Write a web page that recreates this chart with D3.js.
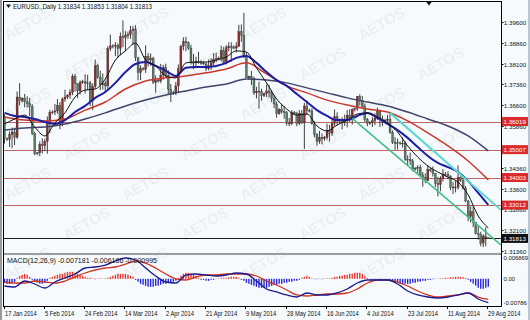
<!DOCTYPE html>
<html><head><meta charset="utf-8">
<script src="https://cdn.jsdelivr.net/npm/d3@7"></script>
<style>
body{margin:0;background:#f6fafc;}
svg{display:block;}
text{font-family:"Liberation Sans",Arial,sans-serif;}
</style>
</head><body>
<svg id="c" width="530" height="320"></svg>
<script>
// ---------------- DATA ----------------
const symbolTitle = "EURUSD,,Daily";
const lastBar = [1.31834, 1.31853, 1.31804, 1.31813];
const macdTitle = "MACD(12,26,9) -0.007181 -0.006186 -0.000995";
const watermark = "AETOS";

const dateLabels = ["17 Jan 2014","5 Feb 2014","24 Feb 2014","14 Mar 2014","2 Apr 2014","21 Apr 2014","9 May 2014","28 May 2014","16 Jun 2014","4 Jul 2014","23 Jul 2014","11 Aug 2014","29 Aug 2014"];
const dateLabelBars = [0,16,32,48,64,80,96,112,128,144,160,176,192];

const priceTicks = [1.39600,1.38860,1.38100,1.37360,1.36600,1.35860,1.35100,1.34360,1.33600,1.32860,1.32100,1.31360];
const levels = [1.36019,1.35007,1.34003,1.33012];
const currentPrice = 1.31813;
const macdTicks = [0.006869, 0.00, -0.00786];

const opens = [1.3620,1.3540,1.3538,1.3555,1.3564,1.3545,1.3690,1.3677,1.3685,1.3673,1.3667,1.3655,1.3560,1.3486,1.3489,1.3520,1.3515,1.3530,1.3595,1.3635,
1.3636,1.3640,1.3660,1.3594,1.3683,1.3690,1.3697,1.3707,1.3765,1.3738,1.3712,1.3743,1.3746,1.3740,1.3741,1.3676,1.3727,1.3803,1.3762,1.3734,
1.3740,1.3730,1.3864,1.3874,1.3873,1.3876,1.3865,1.3908,1.3904,1.3913,1.3915,1.3930,1.3934,1.3832,1.3778,1.3792,1.3790,1.3837,1.3823,1.3830,
1.3743,1.3750,1.3748,1.3769,1.3796,1.3767,1.3718,1.3703,1.3705,1.3730,1.3792,1.3873,1.3890,1.3885,1.3866,1.3815,1.3813,1.3819,1.3814,1.3812,
1.3809,1.3792,1.3802,1.3813,1.3826,1.3828,1.3830,1.3857,1.3815,1.3867,1.3872,1.3870,1.3866,1.3873,1.3925,1.3912,1.3838,1.3759,1.3764,1.3756,
1.3705,1.3711,1.3711,1.3695,1.3702,1.3712,1.3705,1.3685,1.3665,1.3630,1.3645,1.3637,1.3634,1.3596,1.3594,1.3635,1.3630,1.3595,1.3630,1.3597,
1.3658,1.3642,1.3640,1.3593,1.3555,1.3531,1.3545,1.3540,1.3545,1.3570,1.3560,1.3595,1.3620,1.3604,1.3602,1.3600,1.3610,1.3625,1.3616,1.3645,
1.3648,1.3692,1.3678,1.3655,1.3610,1.3596,1.3598,1.3605,1.3614,1.3640,1.3610,1.3603,1.3606,1.3610,1.3562,1.3526,1.3526,1.3525,1.3522,1.3524,
1.3466,1.3465,1.3460,1.3430,1.3434,1.3437,1.3410,1.3400,1.3389,1.3430,1.3425,1.3415,1.3379,1.3375,1.3398,1.3413,1.3412,1.3406,1.3364,1.3366,
1.3365,1.3401,1.3390,1.3362,1.3316,1.3260,1.3278,1.3240,1.3200,1.3196,1.3164,1.3190,1.31834];
const highs = [1.3628,1.3545,1.3566,1.3580,1.3580,1.3710,1.3740,1.3690,1.3701,1.3693,1.3687,1.3665,1.3565,1.3492,1.3530,1.3541,1.3540,1.3620,1.3644,1.3642,
1.3665,1.3683,1.3672,1.3688,1.3716,1.3700,1.3718,1.3772,1.3774,1.3740,1.3750,1.3752,1.3772,1.3770,1.3748,1.3739,1.3825,1.3810,1.3785,1.3775,
1.3749,1.3873,1.3915,1.3880,1.3888,1.3883,1.3922,1.3966,1.3927,1.3925,1.3946,1.3945,1.3948,1.3833,1.3804,1.3798,1.3876,1.3848,1.3847,1.3835,
1.3768,1.3757,1.3809,1.3806,1.3810,1.3786,1.3737,1.3712,1.3745,1.3807,1.3878,1.3905,1.3907,1.3890,1.3878,1.3845,1.3835,1.3853,1.3822,1.3818,
1.3815,1.3825,1.3830,1.3848,1.3850,1.3836,1.3875,1.3871,1.3877,1.3887,1.3887,1.3876,1.3887,1.3950,1.3951,1.3993,1.3851,1.3767,1.3784,1.3763,
1.3727,1.3745,1.3720,1.3706,1.3735,1.3734,1.3715,1.3697,1.3673,1.3650,1.3666,1.3657,1.3640,1.3615,1.3643,1.3640,1.3637,1.3643,1.3643,1.3669,
1.3677,1.3648,1.3650,1.3603,1.3560,1.3568,1.3559,1.3550,1.3594,1.3590,1.3615,1.3645,1.3635,1.3612,1.3617,1.3627,1.3643,1.3646,1.3649,1.3652,
1.3694,1.3700,1.3694,1.3667,1.3615,1.3603,1.3618,1.3631,1.3652,1.3645,1.3623,1.3612,1.3626,1.3637,1.3570,1.3546,1.3540,1.3530,1.3545,1.3531,
1.3480,1.3490,1.3467,1.3438,1.3445,1.3446,1.3420,1.3415,1.3444,1.3435,1.3440,1.3417,1.3403,1.3405,1.3431,1.3420,1.3423,1.3408,1.3385,1.3390,
1.3444,1.3405,1.3400,1.3370,1.3320,1.3297,1.3298,1.3240,1.3225,1.3205,1.3196,1.3222,1.31853];
const lows = [1.3523,1.3532,1.3510,1.3506,1.3517,1.3540,1.3660,1.3670,1.3653,1.3652,1.3621,1.3553,1.3480,1.3481,1.3477,1.3487,1.3495,1.3486,1.3560,1.3628,
1.3625,1.3630,1.3574,1.3585,1.3673,1.3683,1.3683,1.3697,1.3710,1.3686,1.3700,1.3737,1.3703,1.3715,1.3658,1.3643,1.3720,1.3755,1.3715,1.3717,
1.3705,1.3715,1.3855,1.3865,1.3837,1.3831,1.3840,1.3870,1.3855,1.3900,1.3900,1.3878,1.3820,1.3750,1.3751,1.3785,1.3777,1.3800,1.3802,1.3737,
1.3705,1.3742,1.3740,1.3752,1.3760,1.3700,1.3672,1.3698,1.3697,1.3706,1.3782,1.3858,1.3855,1.3860,1.3807,1.3791,1.3796,1.3810,1.3806,1.3806,
1.3783,1.3786,1.3787,1.3804,1.3815,1.3822,1.3818,1.3807,1.3807,1.3855,1.3817,1.3862,1.3850,1.3870,1.3889,1.3830,1.3760,1.3752,1.3733,1.3697,
1.3685,1.3648,1.3677,1.3690,1.3690,1.3688,1.3672,1.3650,1.3616,1.3626,1.3630,1.3612,1.3587,1.3585,1.3589,1.3625,1.3585,1.3589,1.3592,1.3503,
1.3627,1.3635,1.3591,1.3545,1.3515,1.3522,1.3520,1.3533,1.3537,1.3530,1.3550,1.3585,1.3590,1.3595,1.3574,1.3586,1.3581,1.3600,1.3591,1.3638,
1.3640,1.3659,1.3652,1.3600,1.3585,1.3590,1.3582,1.3589,1.3608,1.3582,1.3585,1.3597,1.3590,1.3558,1.3521,1.3500,1.3501,1.3518,1.3508,1.3460,
1.3446,1.3445,1.3422,1.3426,1.3416,1.3403,1.3367,1.3380,1.3388,1.3420,1.3404,1.3366,1.3333,1.3351,1.3386,1.3405,1.3394,1.3355,1.3341,1.3347,
1.3357,1.3385,1.3357,1.3312,1.3243,1.3239,1.3222,1.3195,1.3177,1.3153,1.3150,1.3153,1.31804];
const closes = [1.3540,1.3538,1.3555,1.3564,1.3545,1.3690,1.3677,1.3685,1.3673,1.3667,1.3655,1.3560,1.3486,1.3489,1.3520,1.3515,1.3530,1.3595,1.3635,1.3636,
1.3640,1.3660,1.3594,1.3683,1.3690,1.3697,1.3707,1.3765,1.3738,1.3712,1.3743,1.3746,1.3740,1.3741,1.3676,1.3727,1.3803,1.3762,1.3734,1.3740,
1.3730,1.3864,1.3874,1.3873,1.3876,1.3865,1.3908,1.3904,1.3913,1.3915,1.3930,1.3934,1.3832,1.3778,1.3792,1.3790,1.3837,1.3823,1.3830,1.3743,
1.3750,1.3748,1.3769,1.3796,1.3767,1.3718,1.3703,1.3705,1.3730,1.3792,1.3873,1.3890,1.3885,1.3866,1.3815,1.3813,1.3819,1.3814,1.3812,1.3809,
1.3792,1.3802,1.3813,1.3826,1.3828,1.3830,1.3857,1.3815,1.3867,1.3872,1.3870,1.3866,1.3873,1.3925,1.3912,1.3838,1.3759,1.3764,1.3756,1.3705,
1.3711,1.3711,1.3695,1.3702,1.3712,1.3705,1.3685,1.3665,1.3630,1.3645,1.3637,1.3634,1.3596,1.3594,1.3635,1.3630,1.3595,1.3630,1.3597,1.3658,
1.3642,1.3640,1.3593,1.3555,1.3531,1.3545,1.3540,1.3545,1.3570,1.3560,1.3595,1.3620,1.3604,1.3602,1.3600,1.3610,1.3625,1.3616,1.3645,1.3648,
1.3692,1.3678,1.3655,1.3610,1.3596,1.3598,1.3605,1.3614,1.3640,1.3610,1.3603,1.3606,1.3610,1.3562,1.3526,1.3526,1.3525,1.3522,1.3524,1.3466,
1.3465,1.3460,1.3430,1.3434,1.3437,1.3410,1.3400,1.3389,1.3430,1.3425,1.3415,1.3379,1.3375,1.3398,1.3413,1.3412,1.3406,1.3364,1.3366,1.3365,
1.3401,1.3390,1.3362,1.3316,1.3260,1.3278,1.3240,1.3200,1.3196,1.3164,1.3190,1.3183,1.31813];

const maBars4 = [0,4,8,12,16,20,24,28,32,36,40,44,48,52,56,60,64,68,72,76,80,84,88,92,96,100,104,108,112,116,120,124,128,132,136,140,144,148,152,156,160,164,168,172,176,180,184,188,192];
const maBars8 = [0,8,16,24,32,40,48,56,64,72,80,88,96,104,112,120,128,136,144,152,160,168,176,184,192];
const fastMA = [1.3593,1.3611,1.3625,1.3582,1.3550,1.3597,1.3633,1.3690,1.3715,1.3719,1.3755,1.3823,1.3856,1.3884,1.3823,1.3802,1.3766,1.3759,1.3813,1.3816,1.3816,1.3823,1.3834,1.3856,1.3852,1.3795,1.3741,1.3683,1.3647,1.3625,1.3629,1.3586,1.3568,1.3589,1.3607,1.3629,1.3633,1.3618,1.3597,1.3564,1.3514,1.3474,1.3442,1.3420,1.3402,1.3384,1.3338,1.3262,1.3219];
const midMA = [1.3633,1.3622,1.3618,1.3611,1.3600,1.3593,1.3607,1.3636,1.3658,1.3687,1.3708,1.3741,1.3780,1.3809,1.3816,1.3802,1.3784,1.3766,1.3795,1.3798,1.3798,1.3802,1.3813,1.3831,1.3838,1.3813,1.3780,1.3751,1.3730,1.3701,1.3672,1.3643,1.3622,1.3607,1.3607,1.3622,1.3633,1.3615,1.3593,1.3571,1.3543,1.3510,1.3478,1.3453,1.3438,1.3420,1.3388,1.3345,1.3302];
const slowMA = [1.3618,1.3607,1.3604,1.3611,1.3643,1.3672,1.3719,1.3748,1.3759,1.3766,1.3777,1.3791,1.3813,1.3773,1.3730,1.3705,1.3679,1.3661,1.3647,1.3636,1.3604,1.3561,1.3514,1.3460,1.3392];
const longMA = [1.3571,1.3579,1.3582,1.3593,1.3611,1.3633,1.3658,1.3679,1.3697,1.3712,1.3726,1.3737,1.3755,1.3751,1.3741,1.3723,1.3705,1.3687,1.3672,1.3658,1.3636,1.3611,1.3586,1.3550,1.3496];

// channel trend lines: [bar, price] end points
const channelLower = [[138, 1.3613], [197, 1.3158]];
const channelUpper = [[153, 1.3633], [197, 1.3284]];

// MACD main & signal (sampled every 4 bars), histogram per bar
const macdMain = [-0.00215,-0.00245,-0.00065,-0.00155,-0.00275,-0.00095,0.00026,0.00146,0.00326,0.00356,0.00416,0.00537,0.00627,0.00567,0.00326,0.00086,-0.00095,-0.00125,0.00116,0.00146,0.00116,0.00086,0.00116,0.00176,0.00146,-0.00065,-0.00305,-0.00395,-0.00485,-0.00546,-0.00425,-0.00485,-0.00485,-0.00425,-0.00305,-0.00125,-0.00035,-0.00035,-0.00035,-0.00155,-0.00365,-0.00485,-0.00546,-0.00576,-0.00546,-0.00485,-0.00425,-0.00606,-0.007181];
const macdSignal = [-0.00095,-0.00125,-0.00125,-0.00065,-0.00095,-0.00125,-0.00065,0.00056,0.00176,0.00266,0.00326,0.00356,0.00446,0.00537,0.00476,0.00326,0.00146,0,-0.00035,0.00056,0.00116,0.00116,0.00146,0.00146,0.00146,0.00086,-0.00065,-0.00185,-0.00335,-0.00485,-0.00516,-0.00485,-0.00455,-0.00455,-0.00425,-0.00305,-0.00125,-0.00035,-0.00035,-0.00095,-0.00215,-0.00365,-0.00485,-0.00546,-0.00516,-0.00485,-0.00425,-0.00546,-0.006186];
const macdHist = [-0.0012,-0.0015,-0.0015,-0.0012,-0.0009,0.0003,0.0009,0.0012,0.0015,0.0012,
0.0006,-0.0003,-0.0009,-0.0012,-0.0015,-0.0015,-0.0012,-0.0006,0.0003,0.0006,
0.0009,0.0012,0.0015,0.0015,0.0018,0.0021,0.0021,0.0021,0.0018,0.0015,
0.0012,0.0009,0.0006,0.0003,0.0003,0.0001,-0.0001,0.0001,0.00015,0.0001,
0.00015,0.0003,0.0006,0.0009,0.0012,0.0015,0.0015,0.0015,0.0015,0.0012,
0.0009,0.0006,-0.0003,-0.0009,-0.0015,-0.0018,-0.0021,-0.0024,-0.0024,-0.0024,
-0.0021,-0.0021,-0.0018,-0.0015,-0.0015,-0.0012,-0.0012,-0.0009,-0.0006,0.0003,
0.0009,0.0015,0.0018,0.0018,0.0015,0.0012,0.0009,0.0003,-0.0003,-0.0003,
-0.0006,-0.0006,-0.0003,-0.0003,0.0001,0.0001,0.0003,0.0003,0.0003,0.00045,
0.0006,0.0006,0.0006,0.0003,-0.0003,-0.0006,-0.0012,-0.0015,-0.0018,-0.0021,
-0.0024,-0.0027,-0.0027,-0.0027,-0.0027,-0.0024,-0.0021,-0.0018,-0.0018,-0.0015,
-0.0015,-0.0012,-0.0012,-0.0009,-0.0009,-0.0006,-0.0006,-0.0003,0.0003,0.0006,
0.0009,0.0006,0.00015,-0.0001,-0.0001,0.0001,-0.0001,0.0001,0.00015,0.00015,
0.0003,0.0006,0.0006,0.0009,0.0009,0.0012,0.0012,0.0015,0.0015,0.0018,
0.0018,0.0018,0.0015,0.0009,0.0003,-0.00015,-0.0003,-0.0003,-0.0003,-0.0003,
-0.0003,-0.0003,-0.00045,-0.0006,-0.0009,-0.0012,-0.0012,-0.0015,-0.0015,-0.0015,
-0.0015,-0.0015,-0.0012,-0.0012,-0.0009,-0.0009,-0.0006,-0.0006,-0.0003,-0.0003,
-0.00015,0.0001,0.0001,0.00015,0.00015,0.0003,0.0003,0.00045,0.00045,0.0006,
0.0006,0.0006,0.00045,0.0003,-0.0003,-0.0009,-0.0015,-0.0021,-0.0027,-0.003,
-0.003,-0.0027,-0.0024];

// ---------------- DRAW ----------------
const W = 530, H = 320;
const L = 3, R = 501, T = 1, MB = 253, MT = 255, BOT = 306;
const svg = d3.select("#c");
const x = d3.scaleLinear().domain([0, 192]).range([4.5, 488.3]);
const y = d3.scaleLinear().domain([1.3136, 1.3960]).range([251, 22]);
const ym = d3.scaleLinear().domain([-0.00786, 0.006869]).range([BOT - 1, MT + 1]);
const K = 0.77;
function squeeze(sel, k) {
  sel.each(function(){ const w = this.getComputedTextLength(); d3.select(this).attr("textLength", w*(k||K)).attr("lengthAdjust","spacingAndGlyphs"); });
}

svg.append("rect").attr("width", W).attr("height", H).attr("fill", "#f6fafc");
const defs = svg.append("defs");
defs.append("clipPath").attr("id","cm").append("rect").attr("x",L).attr("y",T).attr("width",R-L).attr("height",MB-T);
defs.append("clipPath").attr("id","cd").append("rect").attr("x",L).attr("y",MT).attr("width",R-L).attr("height",BOT-MT);

// watermark (kept fully inside the picture)
const wm = svg.append("g").attr("fill","#7d8a96").attr("fill-opacity",0.11).attr("font-weight","bold").attr("font-size",15);
for (let r = 0; r < 9; r++) for (let c = -1; c < 6; c++) {
  const wx = c*118 + (r%2)*59 + 30, wy = r*40 + 28;
  if (wx < 30 || wx > 498 || wy < 20 || wy > 298) continue;
  wm.append("text").attr("transform",`translate(${wx},${wy}) rotate(-30)`).attr("text-anchor","middle").text(watermark);
}

// main panel
const gm = svg.append("g").attr("clip-path","url(#cm)");
gm.selectAll("line.lvl").data(levels).join("line").attr("class","lvl")
  .attr("x1",L).attr("x2",R).attr("y1",d=>Math.round(y(d))+0.5).attr("y2",d=>Math.round(y(d))+0.5)
  .attr("stroke","#bf6464").attr("stroke-width",1);
gm.append("line").attr("x1",L).attr("x2",R).attr("y1",Math.round(y(currentPrice))+0.5).attr("y2",Math.round(y(currentPrice))+0.5)
  .attr("stroke","#1a1a1a").attr("stroke-width",1);

const idx = d3.range(closes.length);
gm.selectAll("line.wick").data(idx).join("line").attr("class","wick")
  .attr("x1",i=>x(i)).attr("x2",i=>x(i)).attr("y1",i=>y(highs[i])).attr("y2",i=>y(lows[i]))
  .attr("stroke","#2b2b2b").attr("stroke-width",0.9);
gm.selectAll("rect.body").data(idx).join("rect").attr("class","body")
  .attr("x",i=>x(i)-1).attr("width",2)
  .attr("y",i=>y(Math.max(opens[i],closes[i])))
  .attr("height",i=>Math.max(0.8, Math.abs(y(opens[i])-y(closes[i]))))
  .attr("fill",i=>closes[i]>=opens[i]?"#8e2b2b":"#587a66")
  .attr("stroke","#2b2b2b").attr("stroke-width",0.3);

function maLine(bars, vals, color, w) {
  const line = d3.line().x(d=>x(d[0])).y(d=>y(d[1])).curve(d3.curveMonotoneX);
  gm.append("path").attr("d", line(bars.map((b,k)=>[b, vals[k]])))
    .attr("fill","none").attr("stroke",color).attr("stroke-width",w).attr("stroke-linejoin","round");
}
maLine(maBars8, longMA, "#3e4569", 1.5);
maLine(maBars8, slowMA, "#c9382c", 1.5);
maLine(maBars4, midMA, "#1d1da6", 2);
maLine(maBars4, fastMA, "#111111", 1);

const tl = d3.line().x(d=>x(d[0])).y(d=>y(d[1]));
gm.append("path").attr("d", tl(channelUpper)).attr("stroke","#5ad8cc").attr("stroke-width",2).attr("fill","none");
gm.append("path").attr("d", tl(channelLower)).attr("stroke","#3fbf86").attr("stroke-width",1.6).attr("fill","none");

// panel frames
svg.append("rect").attr("x",L).attr("y",MB).attr("width",R-L).attr("height",MT-MB).attr("fill","#9c9c9c");
svg.append("line").attr("x1",L).attr("x2",R).attr("y1",T+0.5).attr("y2",T+0.5).attr("stroke","#000");
svg.append("line").attr("x1",L).attr("x2",R+0.5).attr("y1",BOT+0.5).attr("y2",BOT+0.5).attr("stroke","#000");
svg.append("line").attr("x1",L+0.5).attr("x2",L+0.5).attr("y1",T).attr("y2",BOT+0.5).attr("stroke","#000");
svg.append("line").attr("x1",R+0.5).attr("x2",R+0.5).attr("y1",T).attr("y2",BOT+0.5).attr("stroke","#000");
// outer window edges
svg.append("rect").attr("x",0).attr("y",0).attr("width",2).attr("height",H).attr("fill","#9a9a9a");
svg.append("rect").attr("x",528).attr("y",0).attr("width",2).attr("height",H).attr("fill","#b9c5d1");

// price axis (small font so labels fit between axis and window edge)
const AX = 6.2;
const pa = svg.append("g").attr("font-size",AX).attr("fill","#111");
priceTicks.forEach(t=>{
  const yy = Math.round(y(t))+0.5;
  pa.append("line").attr("x1",R).attr("x2",R+2.5).attr("y1",yy).attr("y2",yy).attr("stroke","#000");
  pa.append("text").attr("x",R+2.8).attr("y",yy).attr("dy","0.35em").text(t.toFixed(5));
});
levels.forEach(v=>{
  const yy = y(v);
  pa.append("rect").attr("x",R+1).attr("y",yy-4.5).attr("width",26).attr("height",9).attr("fill","#db2a2a");
  pa.append("text").attr("x",R+2.5).attr("y",yy).attr("dy","0.35em").attr("fill","#fff").text(v.toFixed(5));
});
{
  const yy = y(currentPrice);
  pa.append("rect").attr("x",R+1).attr("y",yy-4.5).attr("width",26).attr("height",9).attr("fill","#111");
  pa.append("text").attr("x",R+2.5).attr("y",yy).attr("dy","0.35em").attr("fill","#fff").text(currentPrice.toFixed(5));
}

// MACD panel
const gd = svg.append("g").attr("clip-path","url(#cd)");
gd.selectAll("line.h").data(idx).join("line").attr("class","h")
  .attr("x1",i=>x(i)).attr("x2",i=>x(i)).attr("y1",ym(0)).attr("y2",i=>ym(macdHist[i]))
  .attr("stroke",i=>macdHist[i]>=0?"#e4382f":"#2626d8").attr("stroke-width",1.4);
const ml = d3.line().x(d=>x(d[0])).y(d=>ym(d[1])).curve(d3.curveMonotoneX);
gd.append("path").attr("d", ml(maBars4.map((b,k)=>[b, macdSignal[k]]))).attr("fill","none").attr("stroke","#d2321f").attr("stroke-width",1.3);
gd.append("path").attr("d", ml(maBars4.map((b,k)=>[b, macdMain[k]]))).attr("fill","none").attr("stroke","#1a1a8c").attr("stroke-width",1.3);

const ma = svg.append("g").attr("font-size",5.9).attr("fill","#111");
macdTicks.forEach((t,k)=>{
  let yy = ym(t);
  if (k===0) yy += 2; if (k===2) yy -= 2.5;
  ma.append("text").attr("x",R+2.5).attr("y",yy).attr("dy","0.35em").text(k===1? "0.00" : (t>0? t.toFixed(6) : t.toFixed(5)));
});
svg.append("text").attr("x",7).attr("y",263).attr("font-size",7.5).attr("fill","#111").text(macdTitle)
  .attr("textLength",150).attr("lengthAdjust","spacingAndGlyphs");

// date axis
const da = svg.append("g").attr("font-size",7.5).attr("fill","#111");
dateLabelBars.forEach((b,k)=>{
  const xx = Math.round(x(b)) - 0.5;
  da.append("line").attr("x1",xx).attr("x2",xx).attr("y1",BOT).attr("y2",BOT+3).attr("stroke","#000");
  da.append("text").attr("x",xx+0.5).attr("y",315.5).text(dateLabels[k]).call(squeeze);
});

// header
svg.append("path").attr("d","M6,4.5 L11,4.5 L8.5,8 Z").attr("fill","#111");
svg.append("text").attr("x",13).attr("y",9).attr("font-size",7.5).attr("fill","#111")
  .text(symbolTitle + " " + lastBar.map(v=>v.toFixed(5)).join(" "))
  .attr("textLength",139).attr("lengthAdjust","spacingAndGlyphs");
// chart shift marker
svg.append("path").attr("d","M426,1.5 L432,1.5 L429,5.5 Z").attr("fill","#111");
</script>
</body></html>
